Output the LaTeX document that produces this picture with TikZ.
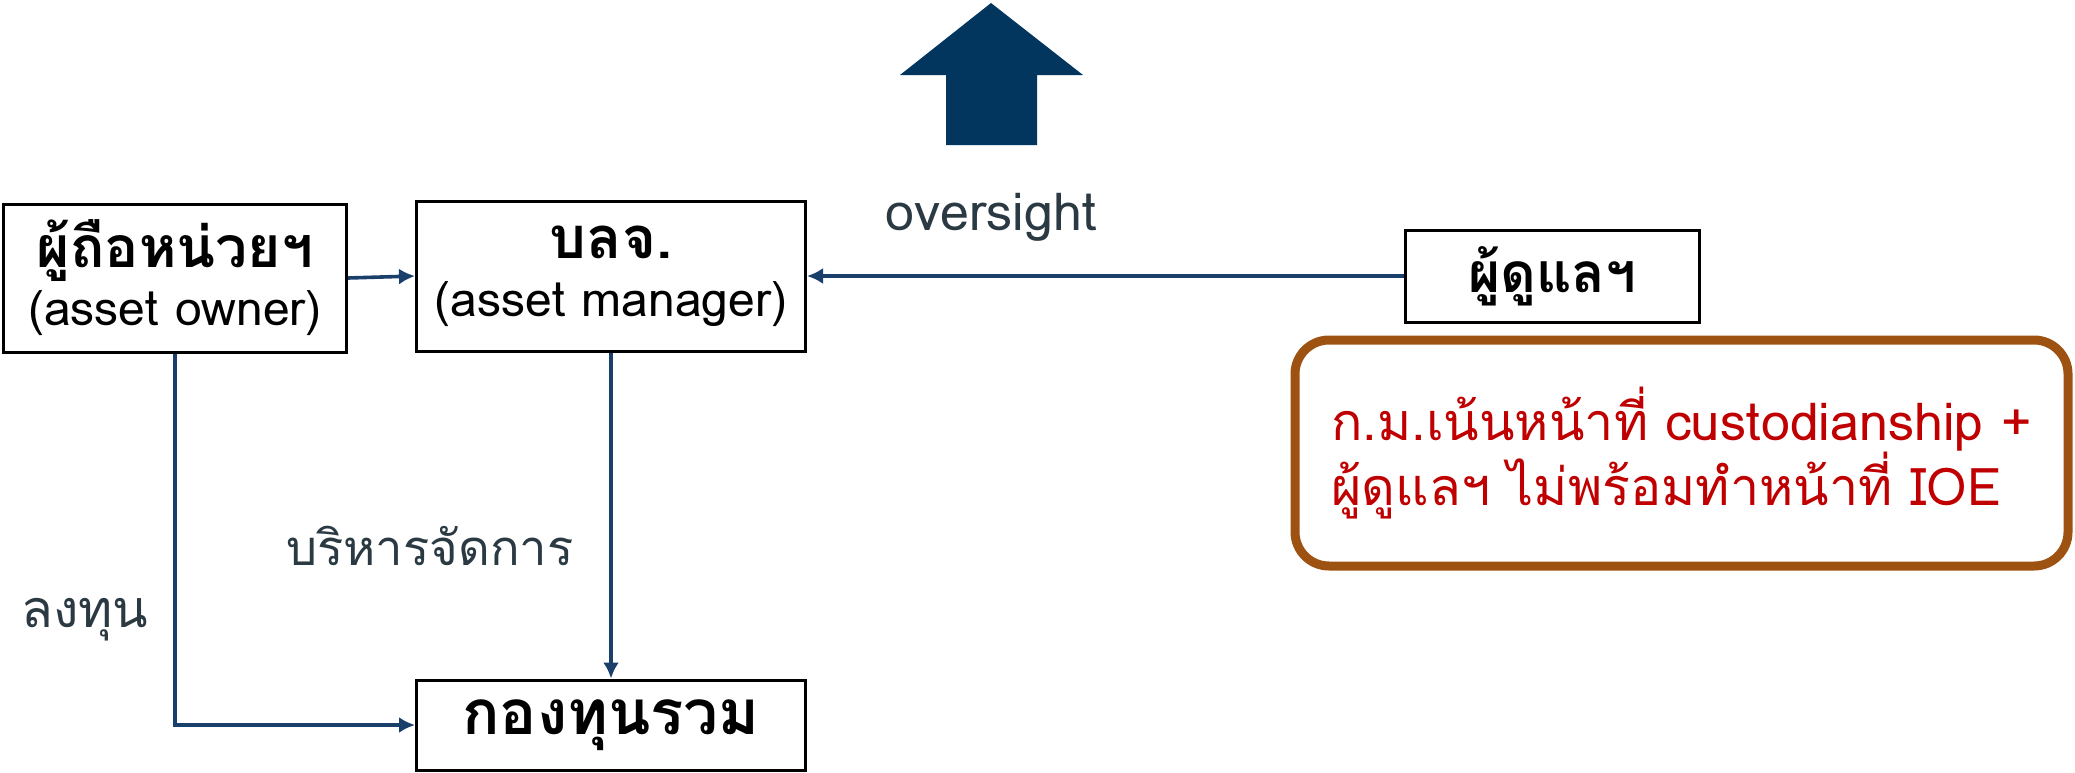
\documentclass[tikz,border=0pt]{standalone}
\usepackage{fontspec}
\setmainfont[Script=Thai]{Loma}
\usetikzlibrary{arrows.meta,positioning}
\definecolor{navy}{HTML}{03365F}
\definecolor{linkblue}{HTML}{1B3F6B}
\definecolor{slate}{HTML}{2B3A42}
\definecolor{rust}{HTML}{9E5211}
\definecolor{warnred}{HTML}{C00000}
\tikzset{
  party/.style={
  draw,
  line width=1.5pt,
  align=center,
  inner sep=0pt,
  font=\fontsize{24}{29}\selectfont,
  },
  link/.style={-{Latex[length=8pt,width=8pt]}, draw=linkblue, line width=1.8pt},
  tag/.style={text=slate, font=\fontsize{26}{30}\selectfont, inner sep=0pt},
}

\begin{document}
\begin{tikzpicture}[x=0.5pt,y=-0.5pt]
\useasboundingbox (0,0) rectangle (2075,772);

% the parties
\node[party, minimum width=171.5pt, minimum height=74pt](owner) at (175,278)
  {{\fontsize{28.5}{30}\selectfont\bfseries ผู้ถือหน่วยฯ}\\(asset owner)};
\node[party, minimum width=194.5pt, minimum height=75pt](manager) at (611,276)
  {{\fontsize{29}{30}\selectfont\bfseries บลจ.}\\(asset manager)};
\node[party, minimum width=147pt, minimum height=46pt, font=\fontsize{27.5}{30}\selectfont\bfseries](trustee) at (1552,276){ผู้ดูแลฯ};
\node[party, minimum width=194.5pt, minimum height=45pt, font=\fontsize{31}{30}\selectfont\bfseries](fund) at (611,725){กองทุนรวม};

% remark
\node[draw=rust, line width=4.5pt, rounded corners=17pt, minimum width=386.5pt, minimum height=113pt,
  align=left, text=warnred, font=\fontsize{26}{32.5}\selectfont](note) at (1681.5,453)
  {ก.ม.เน้นหน้าที่ custodianship +\\ผู้ดูแลฯ ไม่พร้อมทำหน้าที่ IOE};

% oversight arrow
\fill[navy] (991,3) -- (1083,75) -- (1037,75) -- (1037,145) -- (946,145) -- (946,75) -- (900,75) -- cycle;
\node[tag, anchor=base](oversight) at (991,230){oversight};

% connectors
\draw[link] (owner.east) -- (manager.west);
\draw[link] (trustee.west) -- (manager.east);
\draw[link] (owner.south) |- (fund.west);
\draw[link] (manager.south) -- (fund.north);

\node[tag, anchor=base, font=\fontsize{24.5}{30}\selectfont](manage) at (430,565){บริหารจัดการ};
\node[tag, anchor=base](invest) at (85,627){ลงทุน};

\end{tikzpicture}
\end{document}
